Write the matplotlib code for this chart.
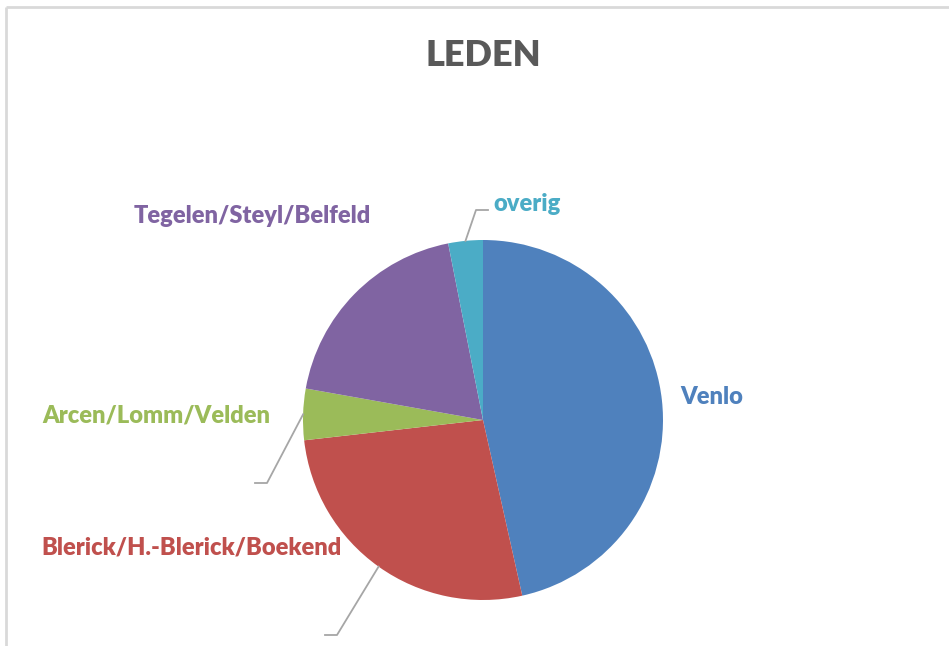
import matplotlib
matplotlib.use("Agg")
import matplotlib.pyplot as plt
import numpy as np

categories = ["Venlo", "Blerick/H.-Blerick/Boekend", "Arcen/Lomm/Velden",
              "Tegelen/Steyl/Belfeld", "overig"]
values = [46.5, 26.7, 4.6, 19.1, 3.1]
colors = ["#4F81BD", "#C0504D", "#9BBB59", "#8064A2", "#4BACC6"]
title = "LEDEN"

W, H = 949, 646
fig = plt.figure(figsize=(W / 100, H / 100), dpi=100)
ax = fig.add_axes([0, 0, 1, 1])
ax.set_xlim(0, W)
ax.set_ylim(0, H)
ax.set_aspect("equal")
ax.axis("off")

cx, cy, r = 483, H - 420, 180
wedges, _ = ax.pie(values, colors=colors, startangle=90, counterclock=False,
                   center=(cx, cy), radius=r, frame=True,
                   wedgeprops=dict(linewidth=0))
ax.set_xlim(0, W)
ax.set_ylim(0, H)
ax.axis("off")

# frame lines (top and left, as in the crop)
ax.plot([6, W], [H - 7, H - 7], color="#D9D9D9", lw=2, solid_capstyle="butt")
ax.plot([6, 6], [0, H - 7], color="#D9D9D9", lw=2, solid_capstyle="butt")

fam = ["Lato", "DejaVu Sans"]
ax.text(cx, H - 55, title, ha="center", va="center", fontsize=26,
        fontweight="heavy", color="#595959", family=fam)

# label specs: (text x, text y, ha, leader elbow, leader end)
label_pos = {
    "Venlo": (680, 397, "left", None, None),
    "overig": (493, 204, "left", (476, 210), (488, 210)),
    "Tegelen/Steyl/Belfeld": (371, 216, "right", None, None),
    "Arcen/Lomm/Velden": (270, 415, "right", (267, 483), (255, 483)),
    "Blerick/H.-Blerick/Boekend": (342, 548, "right", (337, 635), (325, 635)),
}

cum = np.cumsum([0] + values)
total = sum(values)
for i, (cat, col) in enumerate(zip(categories, colors)):
    tx, ty, ha, elbow, end = label_pos[cat]
    ax.text(tx, H - ty, cat, ha=ha, va="center", fontsize=17,
            fontweight="heavy", color=col, family=fam)
    if elbow is not None:
        mid = (cum[i] + values[i] / 2) / total * 2 * np.pi
        px = cx + r * np.sin(mid)
        py = cy + r * np.cos(mid)
        ax.plot([px, elbow[0], end[0]], [py, H - elbow[1], H - end[1]],
                color="#A6A6A6", lw=1.3)

fig.savefig("out.png", dpi=100)
